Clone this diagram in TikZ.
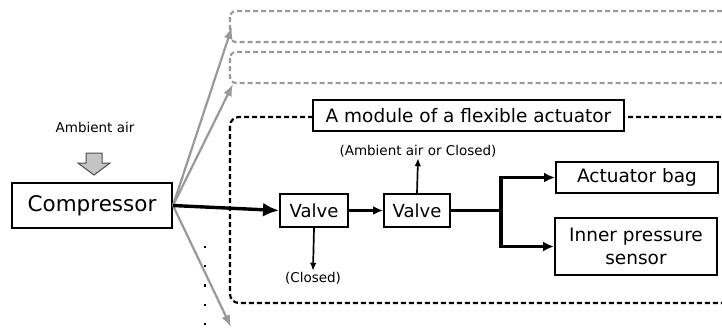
\documentclass[tikz,border=0pt]{standalone}
\usepackage{fontspec}
\setmainfont{DejaVu Sans}
\usetikzlibrary{arrows.meta}
\definecolor{linegray}{HTML}{999999}
\definecolor{arrowfill}{HTML}{C4C4C4}
\begin{document}
\begin{tikzpicture}[x=1pt,y=-1pt,
  box/.style={draw=black,line width=2pt,fill=white,inner sep=0pt,align=center},
  main/.style={line width=3.4pt,-{Latex[length=16pt,width=14pt]}},
  mid/.style={line width=2.2pt,-{Latex[length=10pt,width=9pt]}},
  thin/.style={line width=1.7pt,-{Latex[length=8pt,width=6.5pt]}},
  branch/.style={line width=3.4pt,-{Latex[length=11pt,width=10pt]}},
  grayarrow/.style={draw=linegray,line width=2.2pt,-{Latex[length=12pt,width=9pt]}},
  graybox/.style={draw=linegray,line width=2.2pt,dash pattern=on 5pt off 3pt,rounded corners=6pt},
  modbox/.style={draw=black,line width=2.2pt,dash pattern=on 5pt off 3pt,rounded corners=9pt},
  note/.style={font=\fontsize{13.5}{15}\selectfont,inner sep=1pt}
]
\useasboundingbox (0,0) rectangle (722,330);
\clip (0,0) rectangle (722,330);

% further modules, only partly shown
\draw[graybox] (230,11) rectangle (760,42);
\draw[graybox] (230,52) rectangle (760,83);

% module frame
\draw[modbox] (230,117) rectangle (760,303);
\node[box,minimum width=311pt,minimum height=31pt,font=\fontsize{18.5}{22}\selectfont]
  (title) at (468.5,115.5) {A module of a flexible actuator};

% air intake
\node[font=\fontsize{13.5}{16}\selectfont] (amb) at (95,127) {Ambient air};
\draw[draw=black!70,fill=arrowfill,line width=1pt]
  (86,153) -- (102,153) -- (102,163) -- (110,163) -- (94,175) -- (78,163) -- (86,163) -- cycle;

% compressor
\node[box,minimum width=160pt,minimum height=45pt,font=\fontsize{21.5}{25}\selectfont]
  (comp) at (92,205.5) {Compressor};

% valves and outlets
\node[box,minimum width=68pt,minimum height=33pt,font=\fontsize{18}{21}\selectfont]
  (v1) at (314,210.5) {Valve};
\node[box,minimum width=66pt,minimum height=33pt,font=\fontsize{18}{21}\selectfont]
  (v2) at (417,210.5) {Valve};
\node[note] (closed) at (313,278) {(Closed)};
\node[note] (ambclosed) at (418,151) {(Ambient air or Closed)};

\node[box,minimum width=162pt,minimum height=31pt,font=\fontsize{18.5}{22}\selectfont]
  (bag) at (637,177.5) {Actuator bag};
\node[box,minimum width=162pt,minimum height=57pt,font=\fontsize{18.5}{23}\selectfont]
  (sensor) at (636,246.5) {Inner pressure\\sensor};

% gray branches to the other modules
\coordinate (t1) at (232,27);
\coordinate (t2) at (233,84);
\coordinate (t3) at (231,327);
\draw[grayarrow] (comp.east) -- (t1);
\draw[grayarrow] (comp.east) -- (t2);
\draw[grayarrow] (comp.east) -- (t3);

% ellipsis for further modules
\coordinate (d1) at (205,246);
\coordinate (d2) at (205,332);
\draw[line width=2.2pt,dash pattern=on 2.2pt off 17pt] (d1) -- (d2);

% air path
\draw[main] (comp.east) -- (v1.west);
\draw[mid] (v1.east) -- (v2.west);
\draw[thin] (v1.south) -- (closed.north);
\draw[thin] (v2.north) -- (ambclosed.south);
\draw[line width=3.4pt] (v2.east) -- ++(50,0) coordinate (br);
\draw[branch] (br) |- (bag.west);
\draw[branch] (br) |- (sensor.west);
\end{tikzpicture}
\end{document}
